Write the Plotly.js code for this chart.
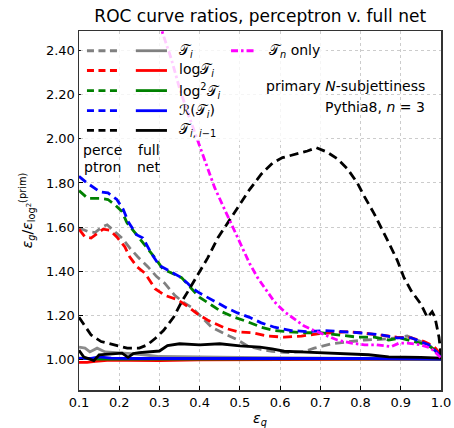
<!DOCTYPE html>
<html>
<head>
<meta charset="utf-8">
<script src="https://cdn.plot.ly/plotly-3.0.1.min.js"></script>
<style>html,body{margin:0;padding:0;background:#fff;}#chart{width:454px;height:428px;}</style>
</head>
<body>
<div id="chart"></div>
<script>
// ---- data ----
// perceptron (dashed)
const xGreyDash = [0.10,0.122,0.14,0.157,0.17,0.185,0.207,0.226,0.246,0.271,0.293,0.313,0.338,0.358,0.38,0.405,0.43,0.462,0.494,0.519,0.55,0.58,0.62,0.66,0.685,0.727,0.777,0.81,0.85,0.89,0.916,0.95,0.975,1.0];
const yGreyDash = [1.595,1.58,1.575,1.60,1.61,1.585,1.55,1.505,1.465,1.42,1.375,1.345,1.29,1.26,1.235,1.19,1.145,1.115,1.088,1.06,1.045,1.035,1.03,1.035,1.05,1.07,1.08,1.087,1.09,1.097,1.105,1.08,1.057,1.01];

const xRedDash = [0.10,0.115,0.13,0.145,0.16,0.177,0.194,0.214,0.226,0.244,0.264,0.289,0.313,0.345,0.37,0.395,0.422,0.464,0.497,0.531,0.568,0.611,0.653,0.693,0.73,0.767,0.80,0.85,0.89,0.926,0.958,0.983,1.0];
const yRedDash = [1.59,1.555,1.55,1.57,1.59,1.585,1.555,1.51,1.465,1.42,1.39,1.32,1.29,1.27,1.24,1.205,1.175,1.14,1.124,1.12,1.105,1.10,1.105,1.115,1.12,1.125,1.12,1.11,1.10,1.097,1.08,1.057,1.02];

const xGreenDash = [0.10,0.122,0.152,0.172,0.19,0.207,0.219,0.239,0.256,0.271,0.289,0.308,0.33,0.355,0.38,0.40,0.43,0.455,0.487,0.519,0.553,0.586,0.618,0.66,0.70,0.742,0.792,0.834,0.87,0.90,0.933,0.966,0.99,1.0];
const yGreenDash = [1.765,1.73,1.73,1.725,1.70,1.67,1.62,1.575,1.535,1.50,1.46,1.41,1.39,1.37,1.32,1.28,1.245,1.215,1.19,1.17,1.145,1.13,1.125,1.12,1.12,1.11,1.10,1.10,1.087,1.095,1.08,1.065,1.035,1.01];

const xBlueDash = [0.10,0.12,0.152,0.172,0.194,0.21,0.222,0.243,0.259,0.28,0.30,0.325,0.35,0.37,0.383,0.40,0.42,0.445,0.47,0.494,0.524,0.553,0.586,0.628,0.668,0.71,0.767,0.797,0.851,0.891,0.926,0.95,0.97,0.988,1.0];
const yBlueDash = [1.83,1.80,1.76,1.755,1.725,1.68,1.625,1.565,1.55,1.48,1.425,1.40,1.375,1.345,1.32,1.30,1.28,1.255,1.23,1.21,1.19,1.165,1.145,1.13,1.125,1.13,1.125,1.12,1.11,1.097,1.097,1.08,1.065,1.035,1.01];

const xBlackDash = [0.10,0.115,0.13,0.155,0.19,0.22,0.25,0.27,0.29,0.31,0.335,0.355,0.375,0.395,0.42,0.445,0.474,0.504,0.524,0.553,0.581,0.606,0.636,0.668,0.69,0.717,0.742,0.767,0.792,0.809,0.834,0.851,0.871,0.891,0.908,0.926,0.95,0.966,0.978,0.985,0.995,1.0];
const yBlackDash = [1.19,1.15,1.11,1.08,1.065,1.05,1.05,1.065,1.095,1.13,1.19,1.26,1.32,1.38,1.46,1.55,1.63,1.71,1.77,1.84,1.89,1.915,1.93,1.945,1.96,1.94,1.91,1.865,1.80,1.74,1.66,1.60,1.525,1.45,1.37,1.31,1.25,1.19,1.215,1.19,1.10,1.02];

// full net (solid)
const xGreySolid = [0.10,0.115,0.127,0.145,0.165,0.197,0.23,0.26,0.30,0.5,0.7,0.9,1.0];
const yGreySolid = [1.055,1.05,1.033,1.05,1.033,1.03,1.025,1.02,1.012,1.008,1.005,1.003,1.0];
const xRedSolid = [0.10,0.12,0.14,0.17,0.22,0.30,0.40,0.50,0.70,1.0];
const yRedSolid = [0.985,0.985,0.99,0.995,0.995,0.993,0.997,0.998,1.0,1.0];
const xGreenSolid = [0.10,0.15,0.30,0.50,0.70,1.0];
const yGreenSolid = [1.005,1.0,1.0,1.001,1.001,1.0];
const xBlueSolid = [0.10,0.13,0.15,0.18,0.25,0.40,0.60,0.80,1.0];
const yBlueSolid = [1.004,1.004,1.01,1.005,1.003,1.003,1.004,1.003,1.0];
const xBlackSolid = [0.10,0.112,0.127,0.137,0.15,0.18,0.207,0.222,0.235,0.25,0.28,0.30,0.32,0.35,0.40,0.45,0.50,0.55,0.58,0.61,0.65,0.70,0.76,0.82,0.87,0.91,0.95,1.0];
const yBlackSolid = [1.04,1.01,1.0,0.993,1.02,1.025,1.027,1.008,1.025,1.03,1.033,1.037,1.062,1.07,1.065,1.07,1.06,1.055,1.047,1.036,1.033,1.03,1.025,1.02,1.01,1.01,1.008,1.005];

// T_n only
const xMagenta = [0.29,0.308,0.33,0.35,0.37,0.395,0.413,0.437,0.462,0.482,0.504,0.524,0.544,0.566,0.586,0.611,0.636,0.66,0.685,0.71,0.742,0.777,0.81,0.84,0.876,0.896,0.916,0.95,0.975,1.0];
const yMagenta = [2.60,2.48,2.36,2.23,2.12,1.99,1.90,1.78,1.68,1.60,1.51,1.435,1.37,1.315,1.26,1.215,1.18,1.15,1.13,1.11,1.087,1.073,1.065,1.065,1.057,1.073,1.073,1.065,1.05,1.006];

const xTicks = [0.1,0.2,0.3,0.4,0.5,0.6,0.7,0.8,0.9,1.0];
const xTickText = ["0.1","0.2","0.3","0.4","0.5","0.6","0.7","0.8","0.9","1.0"];
const yTicks = [1.0,1.2,1.4,1.6,1.8,2.0,2.2,2.4];
const yTickText = ["1.00","1.20","1.40","1.60","1.80","2.00","2.20","2.40"];

const legendLabels = ["𝒯<sub><i>i</i></sub>","log𝒯<sub><i>i</i></sub>","log<sup>2</sup>𝒯<sub><i>i</i></sub>","ℛ(𝒯<sub><i>i</i></sub>)","𝒯<sub><i>i</i>, <i>i</i>−1</sub>"];
const legendColors = ["#808080","#ff0000","#008000","#0000ff","#000000"];

// ---- styling ----
const FONT = "DejaVu Sans, Noto Sans, sans-serif";
const DASH = "9px,5px";
const DASHDOT = "7px,3px,2.5px,3px";
const W = 2.8;

function line(x, y, color, dash, width) {
  return {x: x, y: y, type: "scatter", mode: "lines", hoverinfo: "skip",
          line: {color: color, dash: dash, width: width}, showlegend: false};
}

const traces = [
  line(xGreyDash, yGreyDash, "#808080", DASH, W),
  line(xGreySolid, yGreySolid, "#8c8c8c", "solid", W),
  line(xRedDash, yRedDash, "#ff0000", DASH, W),
  line(xRedSolid, yRedSolid, "#ff0000", "solid", W),
  line(xGreenDash, yGreenDash, "#008000", DASH, W),
  line(xGreenSolid, yGreenSolid, "#008000", "solid", W),
  line(xBlueDash, yBlueDash, "#0000ff", DASH, W),
  line(xBlueSolid, yBlueSolid, "#0000ff", "solid", W),
  line(xBlackDash, yBlackDash, "#000000", DASH, W),
  line(xBlackSolid, yBlackSolid, "#000000", "solid", W),
  line(xMagenta, yMagenta, "#ff00ff", DASHDOT, W)
];

// legend geometry (paper coords)
const rowY = [0.945, 0.890, 0.834, 0.778, 0.723];
const shapes = [{type: "rect", xref: "paper", yref: "paper", x0: 0.005, x1: 0.683, y0: 0.694, y1: 0.986,
                 fillcolor: "rgba(255,255,255,0.8)", line: {width: 0}, layer: "above"}];
const annotations = [];
rowY.forEach(function (yy, i) {
  shapes.push({type: "line", xref: "paper", yref: "paper", x0: 0.022, x1: 0.116, y0: yy, y1: yy,
               line: {color: legendColors[i], width: W, dash: "7px,4.5px"}, layer: "above"});
  shapes.push({type: "line", xref: "paper", yref: "paper", x0: 0.157, x1: 0.243, y0: yy, y1: yy,
               line: {color: legendColors[i], width: W}, layer: "above"});
  annotations.push({xref: "paper", yref: "paper", x: 0.27, y: yy, xanchor: "left", yanchor: "middle",
                    text: legendLabels[i], showarrow: false, font: {family: FONT, size: 14, color: "#000"}});
});
shapes.push({type: "line", xref: "paper", yref: "paper", x0: 0.42, x1: 0.486, y0: rowY[0], y1: rowY[0],
             line: {color: "#ff00ff", width: W, dash: DASHDOT}, layer: "above"});
annotations.push({xref: "paper", yref: "paper", x: 0.52, y: rowY[0], xanchor: "left", yanchor: "middle",
                  text: "𝒯<sub><i>n</i></sub> only", showarrow: false, font: {family: FONT, size: 14, color: "#000"}});
const txt = function (x, y, t, xa) {
  annotations.push({xref: "paper", yref: "paper", x: x, y: y, xanchor: xa, yanchor: "middle",
                    text: t, showarrow: false, font: {family: FONT, size: 14, color: "#000"}});
};
txt(0.066, 0.669, "perce", "center");
txt(0.066, 0.622, "ptron", "center");
txt(0.193, 0.669, "full", "center");
txt(0.193, 0.622, "net", "center");
txt(0.962, 0.847, "primary <i>N</i>-subjettiness", "right");
txt(0.962, 0.789, "Pythia8, <i>n</i> = 3", "right");

const layout = {
  width: 454, height: 428,
  margin: {l: 79, r: 13, t: 31, b: 38},
  paper_bgcolor: "#fff", plot_bgcolor: "#fff",
  font: {family: FONT, size: 13, color: "#000"},
  title: {text: "ROC curve ratios, perceptron v. full net", font: {family: FONT, size: 17, color: "#000"},
          x: 0.5732, xanchor: "center", yref: "container", y: 0.962, yanchor: "middle"},
  xaxis: {range: [0.1, 1.0], tickvals: xTicks, ticktext: xTickText, ticks: "inside", ticklen: 4,
          tickcolor: "#000", showline: true, linecolor: "#333", linewidth: 1.5, mirror: true,
          showgrid: true, gridcolor: "#cccccc", griddash: "dot", gridwidth: 1, zeroline: false,
          tickfont: {family: FONT, size: 13, color: "#000"},
          title: {text: "<i>ε</i><sub><i>q</i></sub>", font: {family: FONT, size: 14, color: "#000"}, standoff: 4}},
  yaxis: {range: [0.86, 2.49], tickvals: yTicks, ticktext: yTickText, ticks: "inside", ticklen: 4,
          tickcolor: "#000", showline: true, linecolor: "#333", linewidth: 1.5, mirror: true,
          showgrid: true, gridcolor: "#cccccc", griddash: "dot", gridwidth: 1, zeroline: false,
          tickfont: {family: FONT, size: 13, color: "#000"},
          title: {text: "<i>ε</i><sub><i>g</i></sub>/<i>ε</i><sub>log<sup>2</sup></sub><sup>(prim)</sup>",
                  font: {family: FONT, size: 14, color: "#000"}, standoff: 10}},
  shapes: shapes,
  annotations: annotations,
  showlegend: false
};

Plotly.newPlot("chart", traces, layout, {displayModeBar: false, staticPlot: true});
</script>
</body>
</html>
